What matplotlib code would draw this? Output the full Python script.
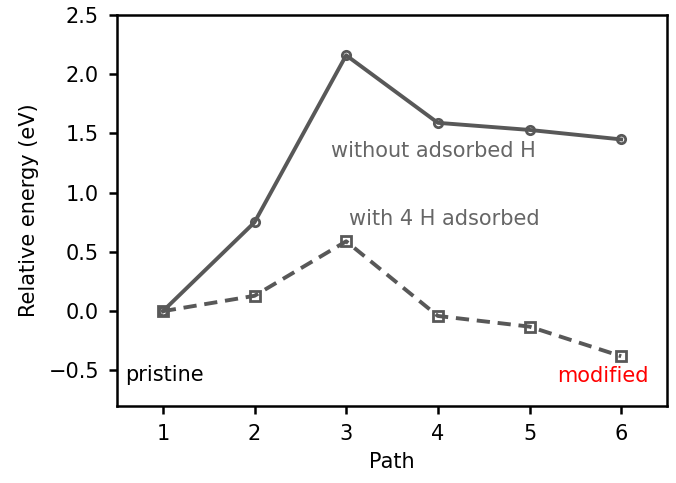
import matplotlib
matplotlib.use("Agg")
import matplotlib.pyplot as plt

paths = [1, 2, 3, 4, 5, 6]
without_H = [0.0, 0.75, 2.16, 1.59, 1.53, 1.45]
with_4H = [0.0, 0.13, 0.59, -0.04, -0.13, -0.38]

plt.rcParams['font.family'] = ['DejaVu Sans']
plt.rcParams['font.size'] = 15

fig = plt.figure(figsize=(6.76, 4.83), dpi=100)
ax = fig.add_axes([117/676, 1 - 406/483, 550/676, 391/483])
c = '#585858'
ax.plot(paths, without_H, '-', color=c, lw=2.8, marker='o', ms=6, mfc='none', mew=2)
ax.plot(paths, with_4H, '--', color=c, lw=2.8, marker='s', ms=6.5, mfc='none', mew=2, dashes=(3.4, 2))
ax.set_xlim(0.5, 6.5)
ax.set_ylim(-0.8, 2.5)
ax.set_xticks(paths)
ax.set_yticks([-0.5, 0.0, 0.5, 1.0, 1.5, 2.0, 2.5])
ax.set_xlabel('Path', labelpad=6)
ax.set_ylabel('Relative energy (eV)', labelpad=7)
for s in ax.spines.values():
    s.set_linewidth(1.8)
ax.tick_params(width=1.8, length=6, pad=7)
ax.text(3.95, 1.355, 'without adsorbed H', color='#666666', ha='center', va='center')
ax.text(4.07, 0.78, 'with 4 H adsorbed', color='#666666', ha='center', va='center')
ax.text(0.59, -0.54, 'pristine', color='black', ha='left', va='center')
ax.text(6.3, -0.55, 'modified', color='red', ha='right', va='center')
fig.savefig('out.png', dpi=100)
